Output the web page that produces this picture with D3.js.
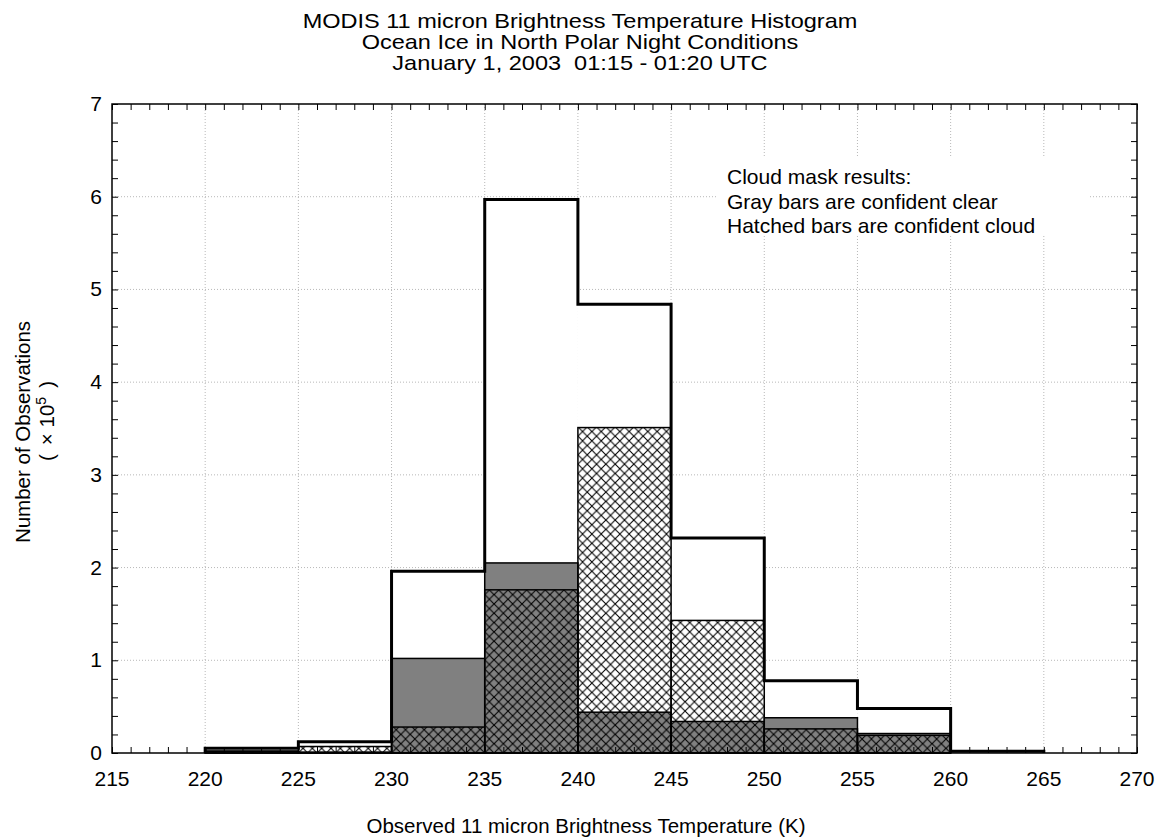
<!DOCTYPE html>
<html>
<head>
<meta charset="utf-8">
<script src="https://cdn.jsdelivr.net/npm/d3@7"></script>
<style>
  body { margin: 0; background: #fff; }
  text { font-family: "Liberation Sans", Arial, sans-serif; fill: #000; }
</style>
</head>
<body>
<div id="chart"></div>
<script>
// bin left edges (K), bins are 5 K wide
const binStarts = [215, 220, 225, 230, 235, 240, 245, 250, 255, 260, 265];
// all observations (x 10^5)
const totalCounts = [0, 0.05, 0.12, 1.96, 5.97, 4.84, 2.32, 0.78, 0.48, 0.02, 0];
// confident clear (gray)
const clearCounts = [0, 0.02, 0.01, 1.02, 2.05, 0.44, 0.34, 0.38, 0.21, 0, 0];
// confident cloud (hatched)
const cloudCounts = [0, 0.02, 0.07, 0.28, 1.76, 3.51, 1.43, 0.26, 0.19, 0, 0];

const xTicks = [215, 220, 225, 230, 235, 240, 245, 250, 255, 260, 265, 270];
const yTicks = [0, 1, 2, 3, 4, 5, 6, 7];
const titleLines = [
  "MODIS 11 micron Brightness Temperature Histogram",
  "Ocean Ice in North Polar Night Conditions",
  "January 1, 2003  01:15 - 01:20 UTC"
];
const legendLines = [
  "Cloud mask results:",
  "Gray bars are confident clear",
  "Hatched bars are confident cloud"
];

const binWidth = 5;
const width = 1164, height = 840;
const margin = { top: 104, right: 27, bottom: 87, left: 112 };

const svg = d3.select('#chart').append('svg')
  .attr('width', width)
  .attr('height', height);

const x = d3.scaleLinear().domain([215, 270]).range([margin.left, width - margin.right]);
const y = d3.scaleLinear().domain([0, 7]).range([height - margin.bottom, margin.top]);

// widen text a bit, the original glyphs are broader than Liberation Sans
function stretch(sel, k) {
  sel.each(function () {
    const w = this.getComputedTextLength();
    d3.select(this).attr('textLength', w * k).attr('lengthAdjust', 'spacingAndGlyphs');
  });
}

// hatch pattern
const defs = svg.append('defs');
const hs = (x(220) - x(215)) / 10;
const pat = defs.append('pattern')
  .attr('id', 'hatch')
  .attr('patternUnits', 'userSpaceOnUse')
  .attr('x', x(215))
  .attr('y', y(0))
  .attr('width', hs)
  .attr('height', hs);
pat.append('path')
  .attr('d', `M0,0L${hs},${hs}M0,${hs}L${hs},0`)
  .attr('stroke', '#000')
  .attr('stroke-width', 1.1)
  .attr('fill', 'none');

// dotted grid
const grid = svg.append('g');
grid.selectAll('.gx')
  .data(xTicks.slice(1, -1))
  .join('line')
  .attr('x1', d => x(d)).attr('x2', d => x(d))
  .attr('y1', y(7)).attr('y2', y(0))
  .attr('stroke', '#b8b8b8')
  .attr('stroke-dasharray', '1,2');
grid.selectAll('.gy')
  .data(yTicks.slice(1, -1))
  .join('line')
  .attr('y1', d => y(d)).attr('y2', d => y(d))
  .attr('x1', x(215)).attr('x2', x(270))
  .attr('stroke', '#b8b8b8')
  .attr('stroke-dasharray', '1,2');

// legend box masks the grid
const lgX = 727, lgY = 184, lgStep = 24.5;
svg.append('rect')
  .attr('x', 718).attr('y', 156)
  .attr('width', 370).attr('height', 78)
  .attr('fill', '#fff');
svg.append('g').selectAll('text')
  .data(legendLines)
  .join('text')
  .attr('x', lgX)
  .attr('y', (d, i) => lgY + i * lgStep)
  .attr('font-size', 21)
  .text(d => d);

const bins = binStarts.map((s, i) => ({
  start: s, total: totalCounts[i], clear: clearCounts[i], cloud: cloudCounts[i]
}));

// white total bars
svg.append('g').selectAll('rect')
  .data(bins.filter(d => d.total > 0))
  .join('rect')
  .attr('x', d => x(d.start))
  .attr('width', d => x(d.start + binWidth) - x(d.start))
  .attr('y', d => y(d.total))
  .attr('height', d => y(0) - y(d.total))
  .attr('fill', '#fff');

// gray clear bars
svg.append('g').selectAll('rect')
  .data(bins.filter(d => d.clear > 0))
  .join('rect')
  .attr('x', d => x(d.start))
  .attr('width', d => x(d.start + binWidth) - x(d.start))
  .attr('y', d => y(d.clear))
  .attr('height', d => y(0) - y(d.clear))
  .attr('fill', '#808080')
  .attr('stroke', '#000')
  .attr('stroke-width', 1.5);

// hatched cloud bars
svg.append('g').selectAll('rect')
  .data(bins.filter(d => d.cloud > 0))
  .join('rect')
  .attr('x', d => x(d.start))
  .attr('width', d => x(d.start + binWidth) - x(d.start))
  .attr('y', d => y(d.cloud))
  .attr('height', d => y(0) - y(d.cloud))
  .attr('fill', 'url(#hatch)')
  .attr('stroke', '#000')
  .attr('stroke-width', 1.5);

// thick step outline of the total histogram
const stepPts = [{ k: 220, v: 0 }];
bins.filter(d => d.start >= 220 && d.start < 265).forEach(d => {
  stepPts.push({ k: d.start, v: d.total });
  stepPts.push({ k: d.start + binWidth, v: d.total });
});
stepPts.push({ k: 265, v: 0 });
svg.append('path')
  .datum(stepPts)
  .attr('d', d3.line().x(d => x(d.k)).y(d => y(d.v)))
  .attr('fill', 'none')
  .attr('stroke', '#000')
  .attr('stroke-width', 3)
  .attr('stroke-linejoin', 'miter');

// frame
svg.append('rect')
  .attr('x', x(215)).attr('y', y(7))
  .attr('width', x(270) - x(215))
  .attr('height', y(0) - y(7))
  .attr('fill', 'none')
  .attr('stroke', '#000')
  .attr('stroke-width', 1.5);

// axes with inward ticks on all four sides
const minorX = d3.range(215, 270.01, 1);
const minorY = d3.range(0, 7.001, 0.2);
const tickLen = 6;

svg.append('g')
  .attr('transform', `translate(0,${y(0)})`)
  .call(d3.axisBottom(x).tickValues(minorX).tickSize(-tickLen).tickFormat(''))
  .call(g => g.select('.domain').remove());
svg.append('g')
  .attr('transform', `translate(0,${y(7)})`)
  .call(d3.axisTop(x).tickValues(minorX).tickSize(-tickLen).tickFormat(''))
  .call(g => g.select('.domain').remove());
svg.append('g')
  .attr('transform', `translate(${x(215)},0)`)
  .call(d3.axisLeft(y).tickValues(minorY).tickSize(-tickLen).tickFormat(''))
  .call(g => g.select('.domain').remove());
svg.append('g')
  .attr('transform', `translate(${x(270)},0)`)
  .call(d3.axisRight(y).tickValues(minorY).tickSize(-tickLen).tickFormat(''))
  .call(g => g.select('.domain').remove());

// tick labels
svg.append('g').selectAll('text')
  .data(xTicks)
  .join('text')
  .attr('x', d => x(d))
  .attr('y', y(0) + 33)
  .attr('text-anchor', 'middle')
  .attr('font-size', 21)
  .text(d => d);
svg.append('g').selectAll('text')
  .data(yTicks)
  .join('text')
  .attr('x', x(215) - 10)
  .attr('y', d => y(d) + 7)
  .attr('text-anchor', 'end')
  .attr('font-size', 21)
  .text(d => d);

// titles
svg.append('g').selectAll('text')
  .data(titleLines)
  .join('text')
  .attr('x', 580)
  .attr('y', (d, i) => 28 + i * 21)
  .attr('text-anchor', 'middle')
  .attr('font-size', 21)
  .attr('xml:space', 'preserve')
  .style('white-space', 'pre')
  .text(d => d)
  .call(stretch, 1.12);

// axis labels
svg.append('text')
  .attr('x', 586)
  .attr('y', 833)
  .attr('text-anchor', 'middle')
  .attr('font-size', 20.5)
  .text('Observed 11 micron Brightness Temperature (K)');

svg.append('text')
  .attr('transform', 'translate(30,432) rotate(-90)')
  .attr('text-anchor', 'middle')
  .attr('font-size', 20.5)
  .text('Number of Observations');
const yl2 = svg.append('text')
  .attr('transform', 'translate(54,421) rotate(-90)')
  .attr('text-anchor', 'middle')
  .attr('font-size', 20.5);
yl2.append('tspan').text('(');
yl2.append('tspan').attr('dx', 9).text('\u00d7 10');
yl2.append('tspan').attr('baseline-shift', 'super').attr('font-size', 14).text('5');
yl2.append('tspan').attr('baseline-shift', 'baseline').attr('dx', 9).text(')');
</script>
</body>
</html>
